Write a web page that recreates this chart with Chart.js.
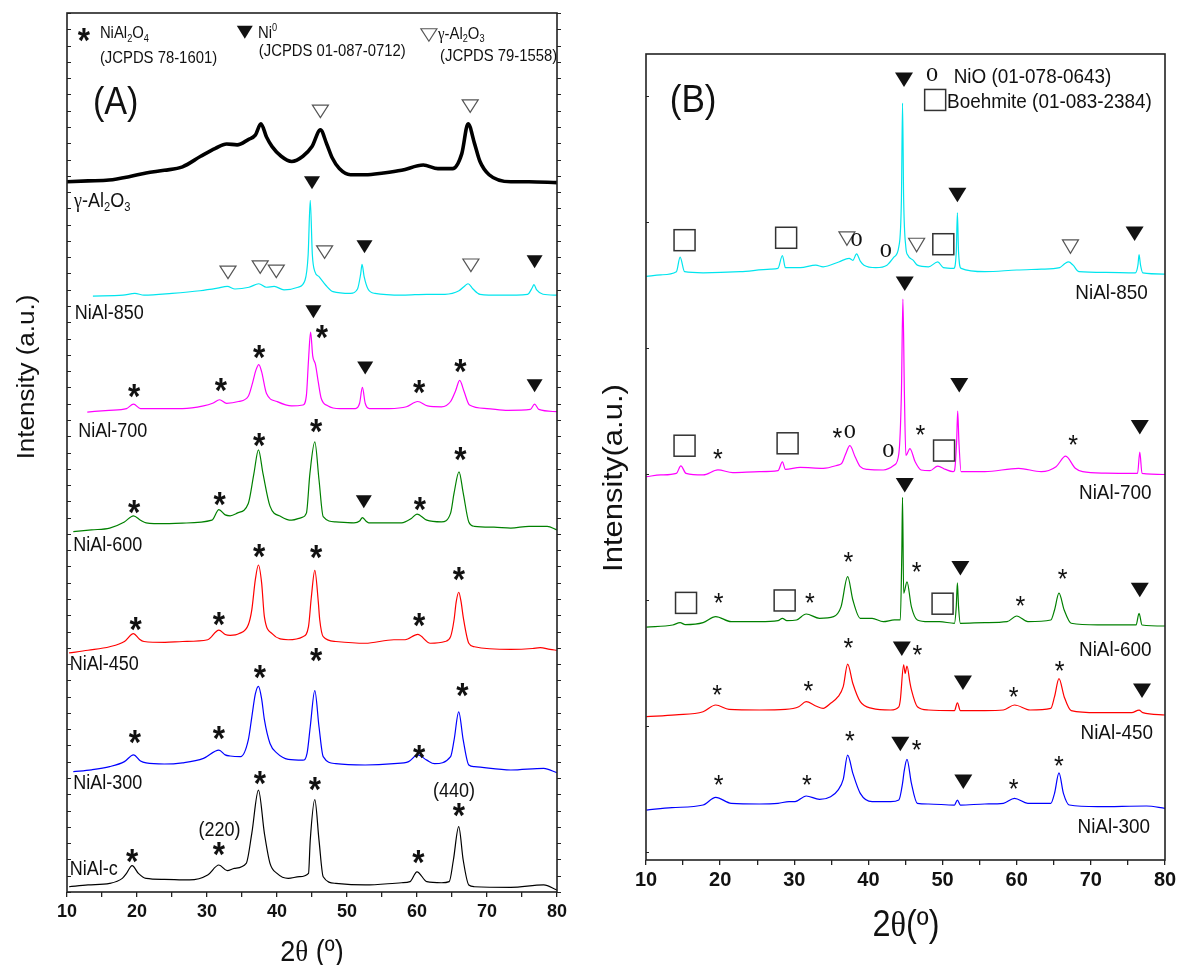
<!DOCTYPE html>
<html>
<head>
<meta charset="utf-8">
<title>XRD patterns of NiAl catalysts</title>
<script src="https://cdn.jsdelivr.net/npm/chart.js@4.4.1/dist/chart.umd.min.js"></script>
<style>
  html, body { margin: 0; padding: 0; background: #fff; }
  #wrap { position: relative; width: 1181px; height: 965px; overflow: hidden; }
  canvas { position: absolute; top: 0; }
  #chartA { left: 0; }
  #chartB { left: 600px; }
</style>
</head>
<body>
<div id="wrap">
  <canvas id="chartA" width="600" height="965"></canvas>
  <canvas id="chartB" width="581" height="965"></canvas>
</div>
<script>
// scan range and axis labels (2θ, degrees)
const twoThetaMin = 10;
const twoThetaMax = 80;
const xTickStep = 5;
const xTickLabels = [10, 20, 30, 40, 50, 60, 70, 80];

// ---------- panel A : stacked patterns [2θ, intensity] ----------
const gammaAl2O3A = [[10, 80.8], [13, 80.9], [16, 81.0], [19, 81.4], [21.3, 81.8], [23.9, 82.1], [26.5, 82.5],
  [29.1, 83.7], [31.2, 84.6], [32.8, 85.1], [34.3, 85.0], [35.9, 85.6], [36.9, 86.1], [37.7, 87.4], [38.5, 85.9],
  [39.3, 84.8], [40.6, 83.7], [42.1, 83.1], [43.7, 83.7], [45.0, 84.8], [46.2, 86.7], [47.1, 85.1], [47.9, 83.5],
  [48.9, 82.3], [50.5, 81.6], [52.6, 81.6], [55.2, 81.8], [57.8, 82.1], [60.9, 82.7], [63, 82.3], [65.1, 82.3],
  [66.4, 84.0], [67.3, 87.4], [68.2, 85.2], [69, 83.1], [70.3, 81.6], [73.4, 80.8], [76, 80.8], [80, 80.7]];

const nial850A = [[13.7, 67.8], [18, 67.9], [19.7, 68.1], [21, 67.9], [25, 68.1], [29, 68.4], [31.5, 68.7],
  [32.9, 68.9], [34, 68.6], [36, 68.8], [37.4, 69.2], [38.5, 68.8], [39.6, 68.9], [41, 68.5], [43, 68.8],
  [44, 69.6], [44.45, 72.5], [44.75, 78.7], [45.05, 72.5], [45.4, 70.6], [46, 70.0], [47, 69.0], [48, 68.3],
  [50.5, 68.1], [51.5, 68.6], [51.95, 70.3], [52.15, 71.4], [52.45, 70.0], [53, 68.6], [54, 68.1], [58, 67.9],
  [61.4, 68.0], [64, 68.0], [66, 68.4], [66.9, 69.0], [67.3, 69.2], [68, 68.6], [69, 68.0], [72, 67.9],
  [75.8, 68.0], [76.5, 68.8], [76.7, 69.1], [77.1, 68.5], [78, 68.0], [80, 67.9]];

const nial700A = [[12.9, 54.6], [16, 54.8], [18.5, 55.0], [19.5, 55.5], [20.5, 55.0], [23, 55.0], [26.5, 55.0],
  [29.5, 55.3], [30.8, 55.6], [31.8, 56.0], [32.8, 55.6], [34.5, 55.8], [35.9, 56.4], [36.5, 57.9], [37.0, 59.4],
  [37.4, 60.0], [37.8, 59.2], [38.5, 56.7], [40.0, 55.8], [42.1, 55.3], [43.7, 55.4], [44.2, 56.5], [44.5, 60.5],
  [44.8, 63.7], [45.1, 61.0], [45.5, 60.0], [45.9, 58.0], [46.3, 56.2], [47.3, 55.3], [49, 55.0], [51.2, 55.0],
  [51.8, 55.6], [52.2, 57.4], [52.6, 55.6], [53.2, 55.0], [56, 55.0], [58.5, 55.2], [60.1, 55.8], [61.5, 55.3],
  [63.5, 55.2], [64.8, 55.8], [65.5, 57.0], [66.1, 58.2], [66.7, 57.0], [67.5, 55.4], [70, 55.0], [73, 54.8],
  [76.2, 54.9], [76.8, 55.5], [77.4, 54.9], [80, 54.64]];

const nial600A = [[10.9, 41.0], [13.5, 41.2], [16.1, 41.4], [18.2, 42.1], [19.5, 42.8], [20.5, 42.3], [21.3, 42.0],
  [24, 41.9], [26.5, 41.97], [30.7, 42.3], [31.7, 43.5], [32.6, 42.9], [33.3, 42.8], [34.3, 43.1], [35.9, 44.2],
  [36.7, 47.6], [37.35, 50.3], [38.0, 47.6], [39.0, 43.9], [40.6, 42.7], [42.1, 42.3], [43.5, 42.6], [44.2, 43.1],
  [44.7, 47.6], [45.4, 51.2], [46.0, 46.9], [46.6, 42.7], [48.4, 42.1], [51.0, 42.0], [51.8, 42.2], [52.2, 42.6],
  [52.7, 42.2], [53.1, 42.0], [55, 42.0], [57.8, 42.0], [59.2, 42.5], [60.0, 43.0], [61.4, 42.3], [63.5, 42.1],
  [64.8, 43.1], [65.3, 45.4], [66.0, 47.8], [66.6, 45.4], [67.4, 42.1], [68.2, 41.6], [71, 41.5], [73.4, 41.4],
  [76.0, 41.6], [78.6, 41.6], [80, 41.2]];

const nial450A = [[10.3, 27.2], [13, 27.5], [16.1, 27.9], [18.2, 28.5], [19.5, 29.4], [20.3, 28.8], [21.0, 28.5],
  [24, 28.4], [26.5, 28.5], [30.1, 28.7], [31.7, 29.8], [32.6, 29.3], [33.3, 29.2], [34.6, 29.4], [35.9, 30.4],
  [36.4, 32.1], [36.9, 35.5], [37.35, 37.2], [37.8, 35.2], [38.2, 31.3], [39.3, 29.4], [41.6, 28.7], [43.7, 29.05],
  [44.5, 30.2], [44.9, 33.5], [45.4, 36.6], [45.9, 33.0], [46.1, 31.0], [46.6, 29.05], [48.4, 28.5], [52.6, 28.3],
  [56.7, 28.7], [58.3, 28.7], [60.1, 29.3], [61.9, 28.3], [64, 28.5], [64.8, 29.05], [65.3, 31.0], [65.6, 33.0],
  [65.96, 34.1], [66.3, 33.0], [66.6, 31.3], [67.4, 28.3], [68.2, 27.9], [73.4, 27.6], [76.5, 27.7], [77.6, 27.8],
  [79, 27.6], [80, 27.5]];

const nial300A = [[10.9, 13.7], [13.5, 13.9], [16.1, 14.26], [18.2, 14.83], [19.5, 15.6], [20.5, 14.9], [21.3, 14.68],
  [23.9, 14.56], [26.5, 14.7], [29.5, 15.2], [31.7, 16.15], [32.6, 15.6], [33.3, 15.47], [34.8, 15.4], [35.9, 17.3],
  [36.4, 19.9], [36.9, 22.5], [37.35, 23.4], [37.8, 22.0], [38.2, 19.6], [39.0, 16.9], [40.0, 15.8], [41.6, 15.09],
  [43.7, 15.0], [44.3, 15.8], [44.75, 18.8], [45.4, 22.9], [46.0, 18.8], [46.6, 15.4], [48.4, 14.6], [52.6, 14.45],
  [56.7, 14.6], [58.8, 14.83], [60.1, 15.6], [61.4, 15.0], [62.5, 14.6], [64.8, 15.4], [65.3, 17.3], [65.96, 20.5],
  [66.6, 17.3], [67.4, 14.45], [68.2, 14.26], [73.4, 13.88], [78.1, 14.07], [80, 13.57]];

const nialCA = [[10.3, 0.6], [13, 0.8], [16.1, 0.98], [17.9, 1.55], [18.5, 2.12], [19.3, 3.0], [20.2, 2.12],
  [21.3, 1.55], [23.9, 1.44], [27.5, 1.37], [30.1, 1.93], [31.7, 3.07], [32.9, 2.43], [33.9, 2.69], [35.6, 3.26],
  [36.4, 6.67], [37.35, 11.6], [38.2, 6.67], [39.0, 3.26], [40.0, 2.12], [41.6, 1.55], [43.2, 1.74], [44.5, 2.12],
  [44.75, 5.9], [45.4, 10.5], [46.0, 5.9], [46.6, 1.74], [48.4, 0.98], [52.6, 0.8], [57.8, 1.05], [59.0, 1.18],
  [60.0, 2.3], [61.4, 1.18], [63.5, 1.05], [64.6, 1.18], [65.2, 3.64], [65.96, 7.43], [66.6, 3.64], [67.4, 0.8],
  [68.2, 0.6], [73.4, 0.53], [78.1, 0.8], [80, 0.23]];

// ---------- panel B : reduced samples ----------
const nial850B = [[10.05, 72.4], [12, 72.6], [14.1, 72.99], [14.6, 74.8], [15.2, 72.99], [17.7, 72.85], [22.7, 72.99],
  [26.8, 73.3], [27.8, 73.4], [28.4, 75.0], [28.8, 73.5], [30.8, 73.5], [32.9, 73.8], [33.9, 73.6], [36.0, 74.2],
  [37.4, 74.65], [37.9, 74.4], [38.4, 75.2], [38.9, 74.3], [39.4, 73.8], [41.0, 73.5], [42.5, 73.8], [43.5, 74.85],
  [44.1, 76.1], [44.45, 82], [44.6, 93.9], [44.75, 82], [45.05, 76.0], [45.3, 75.06], [46.05, 74.4], [46.6, 73.8],
  [48.1, 73.6], [49.35, 74.2], [50.1, 73.5], [51.5, 73.4], [51.85, 75.5], [52.0, 80.3], [52.15, 75.5], [52.5, 73.4],
  [55.7, 72.99], [60, 73.2], [63.3, 73.3], [65.8, 73.5], [66.5, 74.0], [67.0, 74.2], [67.6, 73.8], [68.4, 73.0],
  [72, 72.9], [76.0, 72.85], [76.35, 73.8], [76.5, 75.1], [76.7, 73.8], [77.0, 72.85], [80, 72.7]];

const nial700B = [[10.05, 47.56], [12, 47.77], [14.1, 47.97], [14.7, 48.9], [15.4, 47.97], [17.7, 47.77], [19.7, 48.4],
  [21.7, 48.06], [25.3, 48.18], [27.8, 48.3], [28.4, 49.4], [28.8, 48.46], [30.8, 48.72], [33.9, 48.6], [35.9, 49.0],
  [36.4, 49.2], [36.9, 50.3], [37.5, 51.4], [38.2, 50.04], [38.9, 48.8], [39.9, 48.46], [42.0, 48.39], [43.5, 49.0],
  [44.1, 50.4], [44.45, 58], [44.65, 69.6], [44.85, 58], [45.05, 50.2], [45.6, 51.05], [46.3, 49.4], [47.1, 48.39],
  [48.3, 48.3], [49.35, 48.88], [50.4, 48.46], [51.4, 48.18], [51.6, 48.3], [51.9, 52], [52.04, 55.7], [52.2, 52],
  [52.5, 48.18], [55.7, 48.18], [60.25, 48.6], [63.3, 48.18], [65.3, 48.8], [66.6, 50.1], [67.9, 48.6], [68.9, 48.18],
  [72, 48.0], [76.3, 47.97], [76.6, 50.6], [76.9, 47.97], [80, 47.83]];

const nial600B = [[10.05, 28.9], [13.6, 29.16], [14.6, 29.45], [15.3, 29.2], [17.7, 29.45], [19.4, 30.2], [21.5, 29.57],
  [25.3, 29.57], [27.8, 29.7], [28.4, 29.99], [29.0, 29.7], [30.3, 29.78], [31.6, 30.52], [33.4, 29.99], [35.3, 30.19],
  [36.3, 31.4], [37.2, 35.15], [37.9, 32.26], [38.9, 29.99], [40.5, 29.99], [42.0, 29.57], [43.5, 29.78], [44.3, 29.78],
  [44.5, 38], [44.6, 45.0], [44.75, 33.1], [45.2, 34.5], [45.8, 31.4], [46.6, 29.78], [48.1, 29.57], [49.6, 29.57],
  [51.6, 29.37], [51.85, 31.5], [52.0, 34.4], [52.15, 31.5], [52.4, 29.37], [55.7, 29.45], [58.7, 29.57], [60.0, 30.27],
  [61.5, 29.57], [64.6, 29.78], [65.1, 31.02], [65.7, 33.1], [66.4, 31.02], [67.35, 29.37], [70.9, 29.16], [76.1, 29.16],
  [76.5, 30.6], [76.9, 29.16], [80, 29.03]];

const nial450B = [[10.05, 17.78], [14, 18.0], [17.7, 18.4], [19.4, 19.23], [21.2, 18.69], [25.3, 18.61], [28.8, 18.69],
  [30.6, 19.02], [31.6, 19.64], [32.9, 19.11], [33.9, 18.82], [34.9, 19.44], [35.9, 20.26], [36.6, 21.5], [37.2, 24.3],
  [37.9, 21.9], [38.9, 19.64], [40.5, 18.82], [43.0, 18.61], [44.1, 19.0], [44.3, 19.85], [44.75, 24.2], [44.95, 23.16],
  [45.2, 24.07], [45.6, 22.0], [45.8, 21.1], [46.6, 19.02], [48.1, 18.61], [51.6, 18.53], [52.0, 19.5], [52.4, 18.53],
  [55.7, 18.53], [58.2, 18.61], [59.7, 19.23], [61.8, 18.61], [64.6, 18.82], [65.1, 20.26], [65.7, 22.5], [66.4, 20.26],
  [67.35, 18.53], [70.9, 18.28], [75.5, 18.28], [76.5, 18.6], [77.0, 18.28], [80, 17.99]];

const nial300B = [[10.05, 6.2], [13.5, 6.5], [17.7, 6.82], [19.4, 7.77], [21.5, 7.03], [25.3, 6.95], [27.8, 7.03],
  [29.3, 7.24], [30.1, 7.24], [31.6, 7.94], [33.4, 7.53], [34.9, 7.86], [35.9, 8.68], [36.6, 10.0], [37.2, 13.0],
  [37.9, 10.75], [38.9, 8.27], [40.5, 7.24], [43.0, 7.24], [44.1, 7.44], [44.6, 9.5], [44.8, 10.9], [45.2, 12.49],
  [45.8, 9.5], [46.6, 7.03], [48.1, 6.95], [51.6, 6.82], [52.0, 7.44], [52.4, 6.82], [55.7, 6.95], [58.2, 7.03],
  [59.7, 7.65], [61.5, 7.03], [64.6, 7.03], [65.1, 8.27], [65.7, 10.8], [66.3, 8.27], [67.1, 6.82], [70.9, 6.62],
  [77.5, 6.7], [80, 6.41]];

// phase markers [kind, 2θ, y]: star = NiAl2O4, ni = Ni0, al = γ-Al2O3, bo = boehmite, nio = NiO
const marksA = [
  ['star', 12.4, 97.8], ['ni', 35.4, 97.8], ['al', 61.7, 97.5],
  ['al', 46.2, 88.8], ['al', 67.6, 89.4], ['ni', 45.0, 80.7],
  ['al', 33.0, 70.5], ['al', 37.6, 71.1], ['al', 39.9, 70.6], ['al', 46.8, 72.8], ['ni', 52.5, 73.4],
  ['al', 67.7, 71.3], ['ni', 76.8, 71.7], ['ni', 45.2, 66.0],
  ['star', 46.4, 64.0], ['star', 37.45, 61.7], ['star', 19.6, 57.3], ['star', 32.0, 57.9], ['ni', 52.6, 59.6],
  ['star', 60.3, 57.7], ['star', 66.2, 60.1], ['ni', 76.8, 57.6],
  ['star', 45.6, 53.3], ['star', 37.45, 51.7], ['star', 19.6, 44.0], ['star', 31.8, 45.0], ['ni', 52.4, 44.4],
  ['star', 60.4, 44.4], ['star', 66.2, 50.1],
  ['star', 37.45, 39.0], ['star', 45.6, 38.9], ['star', 66.0, 36.4], ['star', 19.8, 30.75], ['star', 31.7, 31.3],
  ['star', 60.3, 31.25],
  ['star', 45.6, 27.2], ['star', 37.55, 25.3], ['star', 19.7, 17.9], ['star', 31.7, 18.4], ['star', 60.3, 16.2],
  ['star', 66.5, 23.2],
  ['star', 37.55, 13.2], ['star', 45.4, 12.5], ['star', 66.0, 9.6], ['star', 31.7, 5.1], ['star', 19.3, 4.3],
  ['star', 60.2, 4.2]
];

const marksB = [
  ['ni', 44.8, 96.8], ['nio', 48.6, 97.4], ['bo', 49.0, 94.3],
  ['bo', 15.2, 76.9], ['bo', 28.9, 77.2], ['al', 37.1, 77.1], ['nio', 38.4, 77.0], ['nio', 42.35, 75.6],
  ['al', 46.5, 76.3], ['bo', 50.1, 76.4], ['ni', 52.0, 82.5], ['al', 67.25, 76.1], ['ni', 75.9, 77.7],
  ['ni', 44.9, 71.5],
  ['bo', 15.2, 51.4], ['star', 19.7, 50.5], ['bo', 29.1, 51.7], ['star', 35.8, 53.1], ['nio', 37.5, 53.1],
  ['nio', 42.7, 50.8], ['star', 47.0, 53.5], ['bo', 50.2, 50.8], ['ni', 52.25, 58.9], ['star', 67.6, 52.3],
  ['ni', 76.6, 53.7],
  ['ni', 44.9, 46.5], ['bo', 15.4, 31.9], ['star', 19.8, 32.7], ['bo', 28.7, 32.2], ['star', 32.1, 32.7],
  ['star', 37.3, 37.8], ['star', 46.5, 36.5], ['ni', 52.4, 36.2], ['bo', 50.0, 31.8], ['star', 60.5, 32.3],
  ['star', 66.2, 35.6], ['ni', 76.6, 33.5],
  ['star', 37.3, 27.1], ['ni', 44.5, 26.2], ['star', 46.6, 26.2], ['star', 19.6, 21.3], ['star', 31.9, 21.7],
  ['ni', 52.75, 22.0], ['star', 59.6, 21.0], ['star', 65.8, 24.2], ['ni', 76.9, 21.0],
  ['star', 37.5, 15.5], ['ni', 44.3, 14.4], ['star', 46.5, 14.4], ['star', 19.8, 10.1], ['star', 31.7, 10.1],
  ['ni', 52.8, 9.7], ['star', 59.6, 9.6], ['star', 65.7, 12.5]
];

// text labels [text, 2θ, y, style]; "_x" subscript, "^x" superscript
const textsA = [
  ['NiAl_2O_4', 14.7, 97.8, 'leg'], ['(JCPDS 78-1601)', 14.7, 95.0, 'jc'],
  ['Ni^0', 37.3, 97.8, 'leg'], ['(JCPDS 01-087-0712)', 37.4, 95.8, 'jc'],
  ['γ-Al_2O_3', 63.0, 97.7, 'leg'], ['(JCPDS 79-1558)', 63.3, 95.2, 'jc'],
  ['(A)', 13.7, 90.1, 'panel'],
  ['γ-Al_2O_3', 11.0, 78.7, 'trace'], ['NiAl-850', 11.1, 66.0, 'trace'], ['NiAl-700', 11.6, 52.6, 'trace'],
  ['NiAl-600', 10.9, 39.6, 'trace'], ['NiAl-450', 10.4, 26.05, 'trace'], ['NiAl-300', 10.9, 12.5, 'trace'],
  ['NiAl-c', 10.4, 2.8, 'trace'],
  ['(440)', 65.3, 11.6, 'hkl'], ['(220)', 31.8, 7.2, 'hkl']
];

const textsB = [
  ['NiO (01-078-0643)', 51.5, 97.4, 'leg'], ['Boehmite (01-083-2384)', 50.6, 94.3, 'leg'],
  ['(B)', 13.2, 94.5, 'panel'],
  ['NiAl-850', 67.9, 70.5, 'trace'], ['NiAl-700', 68.4, 45.7, 'trace'], ['NiAl-600', 68.4, 26.3, 'trace'],
  ['NiAl-450', 68.6, 15.9, 'trace'], ['NiAl-300', 68.2, 4.3, 'trace']
];

// left-axis tick positions
const yTicksA = [];
for (let i = 0; i <= 54; i++) yTicksA.push(i * 100 / 54);
const yTicksB = [1, 16.63, 32.26, 47.89, 63.52, 79.15, 94.78];

const SANS = "'Liberation Sans', Arial, Helvetica, sans-serif";
const SERIF = "'Liberation Serif', 'Times New Roman', serif";
const SQ = 0.9; // lettering is a little narrow in this figure

function trace(label, pts, color, width) {
  return {
    label: label,
    data: pts.map(p => ({ x: p[0], y: p[1] })),
    borderColor: color,
    borderWidth: width || 1.2,
    pointRadius: 0,
    fill: false,
    cubicInterpolationMode: 'monotone'
  };
}

function richParts(str) {
  const parts = [];
  for (let i = 0; i < str.length; i++) {
    const c = str[i];
    if ((c === '_' || c === '^') && i + 1 < str.length) {
      parts.push({ ch: str[i + 1], mode: c });
      i++;
    } else {
      parts.push({ ch: c, mode: '' });
    }
  }
  return parts;
}

// text with sub/superscripts, vertically centred on y
function drawRich(ctx, str, x, y, st) {
  const parts = richParts(str);
  const fontOf = p => {
    const size = p.mode ? st.size * 0.62 : st.size;
    const fam = /[γθ]/.test(p.ch) ? SERIF : (st.family || SANS);
    return (st.weight || 'normal') + ' ' + size + 'px ' + fam;
  };
  ctx.save();
  ctx.translate(x, y);
  ctx.scale(SQ, 1);
  if (st.rotate) ctx.rotate(st.rotate);
  let total = 0;
  parts.forEach(p => { ctx.font = fontOf(p); p.w = ctx.measureText(p.ch).width; total += p.w; });
  let cx = st.align === 'right' ? -total : st.align === 'center' ? -total / 2 : 0;
  const base = st.size * 0.36;
  ctx.fillStyle = st.color || '#111';
  ctx.textAlign = 'left';
  ctx.textBaseline = 'alphabetic';
  parts.forEach(p => {
    ctx.font = fontOf(p);
    let by = base;
    if (p.mode === '_') by += st.size * 0.2;
    if (p.mode === '^') by -= st.size * 0.45;
    ctx.fillText(p.ch, cx, by);
    cx += p.w;
  });
  ctx.restore();
}

function downTriangle(ctx, x, y, w, h) {
  ctx.beginPath();
  ctx.moveTo(x - w / 2, y - h / 2);
  ctx.lineTo(x + w / 2, y - h / 2);
  ctx.lineTo(x, y + h / 2);
  ctx.closePath();
}

function drawMark(ctx, kind, x, y, ms) {
  ctx.save();
  if (kind === 'star') {
    ctx.translate(x, y);
    ctx.scale(SQ, 1);
    ctx.font = ms.starWeight + ' ' + ms.star + 'px ' + SANS;
    ctx.fillStyle = '#111';
    ctx.textAlign = 'center';
    ctx.textBaseline = 'alphabetic';
    ctx.fillText('*', 0, ms.star * 0.55);
  } else if (kind === 'ni') {
    downTriangle(ctx, x, y, ms.ni[0], ms.ni[1]);
    ctx.fillStyle = '#111';
    ctx.fill();
  } else if (kind === 'al') {
    downTriangle(ctx, x, y, ms.al[0], ms.al[1]);
    ctx.strokeStyle = '#555';
    ctx.lineWidth = 1.2;
    ctx.stroke();
  } else if (kind === 'bo') {
    ctx.strokeStyle = '#333';
    ctx.lineWidth = 1.5;
    ctx.strokeRect(x - ms.bo / 2, y - ms.bo / 2, ms.bo, ms.bo);
  } else if (kind === 'nio') {
    ctx.translate(x, y);
    ctx.scale(SQ, 1);
    ctx.font = ms.nio + 'px ' + SERIF;
    ctx.fillStyle = '#111';
    ctx.textAlign = 'center';
    ctx.textBaseline = 'alphabetic';
    ctx.fillText('o', 0, ms.nio * 0.23);
  }
  ctx.restore();
}

// frame, side ticks, phase markers and lettering
function decor(cfg) {
  return {
    id: 'decor',
    afterDatasetsDraw(chart) {
      const ctx = chart.ctx, a = chart.chartArea, ys = chart.scales.y;
      ctx.save();
      ctx.strokeStyle = '#222';
      ctx.lineWidth = 1;
      cfg.yTicks.forEach(v => {
        const py = Math.round(ys.getPixelForValue(v)) + 0.5;
        ctx.beginPath();
        ctx.moveTo(a.left, py);
        ctx.lineTo(a.left + cfg.tickIn, py);
        if (cfg.tickOutRight) {
          ctx.moveTo(a.right, py);
          ctx.lineTo(a.right + cfg.tickOutRight, py);
        }
        ctx.stroke();
      });
      ctx.lineWidth = 1.6;
      ctx.strokeRect(a.left, a.top, a.right - a.left, a.bottom - a.top);
      ctx.restore();
    },
    afterDraw(chart) {
      const ctx = chart.ctx, xs = chart.scales.x, ys = chart.scales.y;
      cfg.marks.forEach(m => {
        drawMark(ctx, m[0], xs.getPixelForValue(m[1]), ys.getPixelForValue(m[2]), cfg.markSize);
      });
      cfg.texts.forEach(t => {
        drawRich(ctx, t[0], xs.getPixelForValue(t[1]), ys.getPixelForValue(t[2]), cfg.styles[t[3]]);
      });
      cfg.titles.forEach(t => drawRich(ctx, t[0], t[1], t[2], t[3]));
    }
  };
}

function xAxis(size, pad) {
  return {
    type: 'linear',
    min: twoThetaMin,
    max: twoThetaMax,
    border: { display: false },
    grid: { display: true, drawOnChartArea: false, drawTicks: true, tickLength: 5, color: '#222', lineWidth: 1.3 },
    ticks: {
      stepSize: xTickStep,
      autoSkip: false,
      maxRotation: 0,
      padding: pad,
      color: '#111',
      font: { family: SANS, size: size, weight: 'bold' },
      callback: v => (xTickLabels.includes(v) ? String(v) : '')
    },
    afterFit(scale) {
      scale.height = 40;
      scale.paddingLeft = 0;
      scale.paddingRight = 0;
    }
  };
}

function baseOptions(padding, tickSize, tickPad) {
  return {
    responsive: false,
    animation: false,
    devicePixelRatio: 1,
    layout: { padding: padding },
    plugins: { legend: { display: false }, tooltip: { enabled: false } },
    scales: {
      x: xAxis(tickSize, tickPad),
      y: { type: 'linear', display: false, min: 0, max: 100 }
    }
  };
}

new Chart(document.getElementById('chartA'), {
  type: 'line',
  data: {
    datasets: [
      trace('γ-Al2O3', gammaAl2O3A, '#000', 3.6),
      trace('NiAl-850', nial850A, '#00e5ee'),
      trace('NiAl-700', nial700A, '#ff00ff'),
      trace('NiAl-600', nial600A, '#008000'),
      trace('NiAl-450', nial450A, '#ff0000'),
      trace('NiAl-300', nial300A, '#0000ff'),
      trace('NiAl-c', nialCA, '#000')
    ]
  },
  options: baseOptions({ left: 67, right: 43, top: 13, bottom: 33 }, 18, 4),
  plugins: [decor({
    yTicks: yTicksA,
    tickIn: 4,
    tickOutRight: 4,
    marks: marksA,
    texts: textsA,
    markSize: { star: 35, starWeight: 'bold', ni: [16, 13], al: [16, 12.5], bo: 20, nio: 26 },
    styles: {
      leg: { size: 16.5 },
      jc: { size: 16.5 },
      panel: { size: 38 },
      trace: { size: 20 },
      hkl: { size: 20, align: 'center' }
    },
    titles: [
      ['Intensity (a.u.)', 26, 377, { size: 26, align: 'center', rotate: -Math.PI / 2 }],
      ['2θ (º)', 312, 950, { size: 30, align: 'center' }]
    ]
  })]
});

new Chart(document.getElementById('chartB'), {
  type: 'line',
  data: {
    datasets: [
      trace('NiAl-850', nial850B, '#00e5ee'),
      trace('NiAl-700', nial700B, '#ff00ff'),
      trace('NiAl-600', nial600B, '#008000'),
      trace('NiAl-450', nial450B, '#ff0000'),
      trace('NiAl-300', nial300B, '#0000ff')
    ]
  },
  options: baseOptions({ left: 46, right: 16, top: 54, bottom: 65 }, 20, 3),
  plugins: [decor({
    yTicks: yTicksB,
    tickIn: 3,
    tickOutRight: 0,
    marks: marksB,
    texts: textsB,
    markSize: { star: 28, starWeight: 'normal', ni: [18, 14.5], al: [16, 13.5], bo: 21, nio: 27 },
    styles: {
      leg: { size: 21 },
      panel: { size: 39 },
      trace: { size: 21 }
    },
    titles: [
      ['Intensity(a.u.)', 12, 478, { size: 31, align: 'center', rotate: -Math.PI / 2 }],
      ['2θ(º)', 306, 923, { size: 36, align: 'center' }]
    ]
  })]
});
</script>
</body>
</html>
